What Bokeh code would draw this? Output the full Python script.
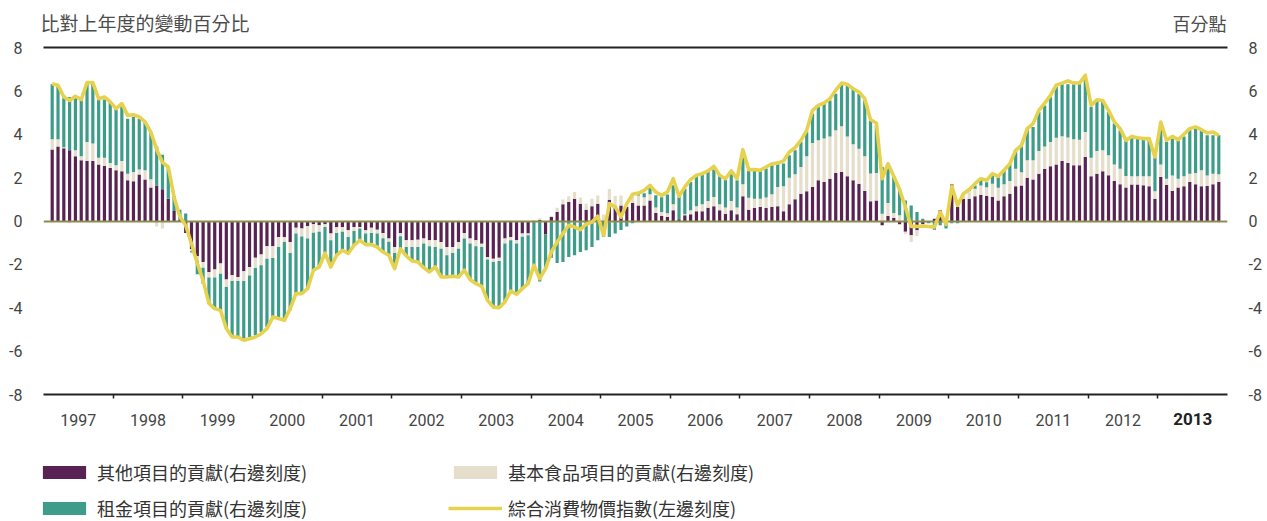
import numpy as np
from bokeh.plotting import figure
from bokeh.layouts import column
from bokeh.models import (Range1d, LinearAxis, FixedTicker, Legend, LegendItem,
                          ColumnDataSource, Grid)
from bokeh.core.properties import value
from bokeh.embed import file_html
from bokeh.resources import INLINE

# ---------------- data (monthly, Feb 1997 .. Nov 2013) ----------------
START_YEAR = 1997
START_MONTH = 2

other = [
    3.30, 3.44, 3.35, 3.26, 2.98, 2.80, 2.77, 2.77, 2.60, 2.54, 2.44,
    2.34, 2.29, 1.88, 1.83, 2.14, 1.91, 1.54, 1.64, 1.46, 1.03, 0.46, 0.06,
    -0.55, -1.30, -1.63, -1.89, -2.35, -2.24, -1.96, -2.70, -2.50, -2.58, -2.32, -2.12,
    -1.69, -1.55, -1.17, -1.17, -0.74, -0.74, -0.97, -0.31, -0.35, -0.23, -0.15, -0.20,
    -0.15, -0.58, -0.28, -0.28, -0.43, -0.28, -0.28, -0.43, -0.31, -0.40, -0.55, -0.81,
    -1.20, -0.55, -0.89, -0.89, -0.86, -0.81, -0.89, -0.89, -0.97, -1.20, -1.20, -0.97,
    -0.55, -0.81, -0.89, -1.05, -1.66, -1.74, -1.69, -0.81, -0.74, -0.89, -0.58, -0.58,
    -0.05, 0.05, -0.62, 0.18, 0.41, 0.77, 0.88, 1.03, 0.80, 0.52, 0.68, 0.80,
    0.00, 0.98, 0.70, 0.72, 0.65, 0.83, 0.72, 0.72, 0.95, 0.37, 0.23, 0.18,
    0.49, 0.08, 0.26, 0.31, 0.45, 0.45, 0.61, 0.68, 0.49, 0.34, 0.49, 0.31,
    1.14, 0.52, 0.60, 0.65, 0.60, 0.65, 0.68, 0.45, 0.77, 1.00, 1.26, 1.37,
    1.57, 1.88, 1.80, 1.95, 2.21, 2.26, 2.06, 1.88, 1.72, 1.38, 0.91, 0.95,
    -0.20, 0.23, 0.15, -0.15, -0.50, -0.66, -0.43, -0.15, -0.05, 0.10, 0.49, 0.00,
    1.69, 0.65, 1.03, 1.03, 1.14, 1.21, 1.15, 1.11, 0.95, 1.14, 1.26, 1.60,
    1.64, 2.00, 1.91, 2.18, 2.41, 2.52, 2.61, 2.77, 2.68, 2.57, 2.57, 2.95,
    2.06, 2.18, 2.29, 2.11, 1.85, 1.69, 1.54, 1.68, 1.68, 1.65, 1.60, 1.03,
    2.03, 1.66, 1.38, 1.54, 1.60, 1.80, 1.69, 1.60, 1.61, 1.69, 1.80,
]

food = [
    0.47, 0.33, 0.05, -0.10, 0.28, 0.18, 0.87, 0.80, 0.32, 0.38, 0.23,
    0.23, 0.48, 0.30, 0.43, 0.23, 0.43, 0.38, -0.25, -0.35, 0.00, 0.00, 0.00,
    0.00, -0.10, -0.21, -0.26, -0.26, -0.37, -0.47, -0.34, -0.27, -0.19, -0.45, -0.39,
    -0.48, -0.49, -0.57, -0.54, -0.46, -0.23, -0.51, -0.27, -0.36, -0.58, -0.39, -0.30,
    -0.13, -0.31, -0.27, -0.22, -0.31, -0.18, -0.07, -0.15, -0.24, -0.18, -0.25, -0.15,
    -0.28, -0.15, -0.31, -0.31, -0.34, -0.23, -0.28, -0.31, -0.31, -0.38, -0.28, -0.31,
    -0.26, -0.23, -0.28, -0.15, -0.12, -0.15, -0.15, -0.23, -0.15, -0.15, -0.15, -0.08,
    0.05, 0.08, 0.00, 0.05, 0.20, 0.22, 0.26, 0.31, 0.28, 0.28, 0.35, 0.38,
    0.30, 0.50, 0.45, 0.46, 0.05, 0.31, 0.46, 0.38, 0.28, 0.25, 0.18, 0.18,
    0.28, 0.00, 0.05, 0.18, 0.23, 0.32, 0.31, 0.43, 0.28, 0.28, 0.43, 0.31,
    0.55, 0.55, 0.43, 0.38, 0.48, 0.58, 0.89, 1.15, 1.23, 1.15, 1.23, 1.61,
    2.03, 1.84, 2.00, 1.95, 1.97, 2.11, 1.84, 1.66, 1.61, 1.60, 1.28, 1.26,
    0.34, 0.60, 0.22, 0.26, -0.10, -0.31, -0.26, -0.05, 0.00, 0.00, 0.00, 0.00,
    0.03, 0.05, 0.20, 0.35, 0.35, 0.43, 0.41, 0.61, 0.58, 0.55, 0.58, 0.81,
    0.61, 0.80, 0.89, 1.05, 1.03, 1.12, 1.23, 1.14, 1.17, 1.20, 1.18, 1.15,
    0.86, 1.05, 0.97, 0.92, 0.75, 0.72, 0.54, 0.38, 0.38, 0.41, 0.46, 0.34,
    0.58, 0.29, 0.72, 0.41, 0.46, 0.38, 0.52, 0.74, 0.49, 0.49, 0.35,
]

rent = [
    2.53, 2.44, 2.39, 2.46, 2.53, 2.71, 2.69, 2.76, 2.72, 2.68, 2.82,
    2.61, 2.64, 2.54, 2.54, 2.35, 2.23, 2.18, 1.80, 1.60, 1.46, 0.69, 0.46,
    0.35, -0.05, -0.62, -0.74, -1.20, -1.43, -1.69, -1.92, -2.58, -2.58, -2.66, -2.84,
    -3.10, -3.08, -3.15, -2.72, -3.30, -3.53, -2.64, -2.77, -2.64, -2.31, -1.73, -1.62,
    -1.20, -1.23, -1.03, -0.85, -0.76, -0.66, -0.54, -0.51, -0.54, -0.62, -0.63, -0.62,
    -0.72, -0.58, -0.41, -0.64, -0.69, -1.11, -1.18, -0.92, -1.30, -1.00, -1.07, -1.30,
    -1.46, -1.66, -1.72, -1.81, -1.88, -2.08, -2.16, -2.69, -2.34, -2.34, -2.39, -2.23,
    -2.04, -2.79, -1.58, -1.70, -1.94, -1.89, -1.66, -1.58, -1.43, -1.35, -1.20, -0.89,
    -0.74, -0.74, -0.58, -0.42, -0.25, -0.10, 0.05, 0.18, 0.37, 0.57, 0.69, 0.86,
    0.88, 1.03, 1.18, 1.31, 1.38, 1.38, 1.34, 1.26, 1.29, 1.29, 1.23, 1.26,
    1.41, 1.23, 1.28, 1.28, 1.34, 1.34, 1.08, 1.05, 1.03, 1.11, 1.15, 1.14,
    1.35, 1.54, 1.61, 1.66, 1.69, 1.97, 2.35, 2.58, 2.54, 2.58, 2.46, 2.20,
    2.15, 1.81, 1.69, 1.23, 0.95, 0.72, 0.41, 0.10, -0.05, -0.40, -0.20, -0.35,
    -0.10, -0.10, 0.03, 0.06, 0.15, 0.31, 0.23, 0.46, 0.49, 0.68, 0.77, 0.85,
    1.23, 1.46, 1.54, 1.80, 1.89, 2.07, 2.34, 2.40, 2.45, 2.54, 2.58, 2.61,
    2.34, 2.31, 2.31, 2.00, 1.89, 1.77, 1.64, 1.81, 1.74, 1.69, 1.74, 1.58,
    1.80, 1.69, 1.69, 1.77, 1.84, 2.00, 2.05, 1.84, 1.85, 1.77, 1.80,
]

cpi = [
    6.33, 6.26, 5.72, 5.56, 5.75, 5.60, 6.38, 6.38, 5.64, 5.72, 5.49,
    5.18, 5.41, 4.87, 4.90, 4.80, 4.57, 4.10, 3.30, 2.70, 2.49, 1.10, 0.20,
    -0.20, -1.05, -1.95, -2.75, -3.80, -4.04, -4.12, -4.96, -5.35, -5.35, -5.50, -5.43,
    -5.35, -5.20, -4.96, -4.43, -4.50, -4.58, -4.04, -3.35, -3.35, -3.12, -2.27, -2.12,
    -1.48, -2.12, -1.58, -1.35, -1.50, -1.12, -0.89, -1.09, -1.09, -1.20, -1.43, -1.58,
    -2.20, -1.28, -1.61, -1.84, -1.89, -2.15, -2.35, -2.12, -2.58, -2.58, -2.55, -2.58,
    -2.27, -2.70, -2.89, -3.01, -3.66, -3.97, -4.00, -3.73, -3.23, -3.38, -3.12, -2.89,
    -2.04, -2.66, -2.20, -1.43, -0.97, -0.58, -0.20, -0.28, -0.40, -0.15, -0.05, 0.22,
    -0.66, 0.80, 0.65, 0.18, 0.80, 1.23, 1.29, 1.41, 1.64, 1.34, 1.18, 1.34,
    1.95, 1.14, 1.57, 1.91, 2.11, 2.18, 2.31, 2.52, 2.11, 1.95, 2.31, 1.95,
    3.29, 2.37, 2.37, 2.34, 2.49, 2.64, 2.67, 2.77, 3.18, 3.38, 3.72, 4.18,
    5.10, 5.33, 5.44, 5.64, 6.03, 6.36, 6.30, 6.10, 5.95, 5.64, 4.67, 4.52,
    1.95, 2.64, 2.06, 1.45, 0.65, -0.25, -0.25, -0.23, -0.25, -0.28, 0.41, -0.15,
    1.60, 0.72, 1.26, 1.45, 1.72, 1.95, 1.88, 2.18, 2.06, 2.34, 2.64, 3.26,
    3.49, 4.26, 4.49, 5.10, 5.43, 5.79, 6.26, 6.36, 6.46, 6.36, 6.36, 6.72,
    5.33, 5.59, 5.56, 5.10, 4.57, 4.26, 3.72, 3.90, 3.84, 3.80, 3.80, 2.95,
    4.56, 3.72, 3.90, 3.75, 4.00, 4.26, 4.34, 4.21, 4.06, 4.10, 3.95,
]

years = list(range(1997, 2014))
year_labels = [str(y) for y in years]
y_ticks = [-8, -6, -4, -2, 0, 2, 4, 6, 8]
y_tick_labels = [str(t) for t in y_ticks]

title_left = "比對上年度的變動百分比"
title_right = "百分點"
series_labels = {
    "other": "其他項目的貢獻(右邊刻度)",
    "food": "基本食品項目的貢獻(右邊刻度)",
    "rent": "租金項目的貢獻(右邊刻度)",
    "cpi": "綜合消費物價指數(左邊刻度)",
}

# ---------------- styles ----------------
C_OTHER = "#582352"
C_FOOD = "#e4decb"
C_RENT = "#3e9d8a"
C_CPI = "#e6d24e"
C_ZERO = "#8c8b50"
C_AXIS = "#222222"
C_TEXT = "#444444"
C_TITLE = "#4d4d4d"
NUM_FONT = "Roboto"
CJK_FONT = "Noto Sans CJK TC"
W = 1267
BL, BR = 43, 40          # chart frame borders (left / right)


def bare(fig):
    fig.outline_line_color = None
    for g in fig.select(type=Grid):
        g.visible = False
    return fig


n = len(cpi)
assert len(other) == n and len(food) == n and len(rent) == n
x = [START_YEAR + (START_MONTH - 1 + k + 0.5) / 12.0 for k in range(n)]

# stack positive parts upward and negative parts downward
pos = np.zeros(n)
neg = np.zeros(n)
stacks = {}
for name, vals in (("other", other), ("food", food), ("rent", rent)):
    v = np.array(vals, dtype=float)
    bottom = np.where(v >= 0, pos, neg)
    top = bottom + v
    pos = np.where(v >= 0, top, pos)
    neg = np.where(v < 0, top, neg)
    stacks[name] = ColumnDataSource(dict(x=x, bottom=bottom, top=top))
cpi_src = ColumnDataSource(dict(x=x, y=cpi))

x_range = Range1d(years[0], years[-1] + 1)
CAN_UNALIGN = "frame_align" in figure.properties()

# ---------------- header (titles) ----------------
head_left = 40 if CAN_UNALIGN else BL
head = bare(figure(width=W, height=40, output_backend="svg", toolbar_location=None,
                   x_range=Range1d(0, 1), y_range=Range1d(0, 1),
                   x_axis_location=None, y_axis_location=None,
                   min_border_left=head_left, min_border_right=BR,
                   min_border_top=0, min_border_bottom=0))
if CAN_UNALIGN:
    head.frame_align = False
head.text(x=[0], y=[0.45], text=[title_left], text_align="left",
          text_baseline="middle", text_font=value(CJK_FONT), text_font_size="19px",
          text_color=C_TITLE)
head.text(x=[1], y=[0.45], text=[title_right], x_offset=-1, text_align="right",
          text_baseline="middle", text_font=value(CJK_FONT), text_font_size="18px",
          text_color=C_TITLE)

# ---------------- main chart ----------------
p = bare(figure(width=W, height=394, output_backend="svg", toolbar_location=None,
                x_range=x_range, y_range=Range1d(-8, 8),
                x_axis_location=None, y_axis_location=None,
                min_border_left=BL, min_border_right=BR, min_border_top=7, min_border_bottom=40))
p.background_fill_color = "white"

bar_w = 0.046
r_other = p.vbar(x="x", bottom="bottom", top="top", width=bar_w, source=stacks["other"],
                 fill_color=C_OTHER, line_color=None)
r_food = p.vbar(x="x", bottom="bottom", top="top", width=bar_w, source=stacks["food"],
                fill_color=C_FOOD, line_color=None)
r_rent = p.vbar(x="x", bottom="bottom", top="top", width=bar_w, source=stacks["rent"],
                fill_color=C_RENT, line_color=None)
p.hspan(y=[0], line_color=C_ZERO, line_width=2)
r_cpi = p.line(x="x", y="y", source=cpi_src, line_color=C_CPI, line_width=3.6, line_join="round")

centers = [y + 0.5 for y in years]
bounds = [float(y) for y in years[1:]]
overrides = {c: lab for c, lab in zip(centers[:-1], year_labels[:-1])}
xaxis = LinearAxis(ticker=FixedTicker(ticks=centers[:-1], minor_ticks=bounds),
                   major_label_overrides=overrides,
                   major_tick_in=0, major_tick_out=0, major_tick_line_color=None,
                   minor_tick_in=0, minor_tick_out=4, minor_tick_line_color=C_AXIS,
                   minor_tick_line_width=1.5,
                   axis_line_color=C_AXIS, axis_line_width=2,
                   major_label_text_font=NUM_FONT, major_label_text_font_size="16px",
                   major_label_text_color=C_TEXT, major_label_standoff=15)
p.add_layout(xaxis, "below")
# the last year's label is bold: a second, line-less axis pulled up onto the same row
xaxis_bold = LinearAxis(ticker=FixedTicker(ticks=centers[-1:]),
                        major_label_overrides={centers[-1]: year_labels[-1]},
                        axis_line_color=None, major_tick_line_color=None,
                        minor_tick_line_color=None, major_tick_out=0, major_tick_in=0,
                        major_label_text_font=NUM_FONT, major_label_text_font_size="17px",
                        major_label_text_font_style="bold", major_label_text_color=C_AXIS,
                        major_label_standoff=-16)
p.add_layout(xaxis_bold, "below")

top_axis = LinearAxis(ticker=FixedTicker(ticks=[]), axis_line_color=C_AXIS, axis_line_width=2,
                      major_tick_line_color=None, minor_tick_line_color=None,
                      major_tick_out=0, major_tick_in=0, major_label_standoff=0,
                      major_label_text_font_size="0px")
p.add_layout(top_axis, "above")

for loc in ("left", "right"):
    ax = LinearAxis(ticker=FixedTicker(ticks=y_ticks),
                    major_label_overrides={t: s for t, s in zip(y_ticks, y_tick_labels)},
                    axis_line_color=None,
                    major_tick_line_color=None, minor_tick_line_color=None,
                    major_tick_out=0, major_tick_in=0,
                    major_label_text_font=NUM_FONT, major_label_text_font_size="16px",
                    major_label_text_color=C_TEXT, major_label_standoff=21)
    p.add_layout(ax, loc)

# ---------------- footer (legend) ----------------
# the legend's renderers reuse the real data, kept out of view by the footer's y-range
foot = bare(figure(width=W, height=87, output_backend="svg", toolbar_location=None,
                   x_range=x_range, y_range=Range1d(100, 101),
                   x_axis_location=None, y_axis_location=None,
                   min_border_left=0, min_border_right=0, min_border_top=0, min_border_bottom=0))
if CAN_UNALIGN:
    foot.frame_align = False
foot_frame_left = 0 if CAN_UNALIGN else BL
f_other = foot.vbar(x="x", bottom="bottom", top="top", width=bar_w, source=stacks["other"],
                    fill_color=C_OTHER, line_color=None)
f_food = foot.vbar(x="x", bottom="bottom", top="top", width=bar_w, source=stacks["food"],
                   fill_color=C_FOOD, line_color=None)
f_rent = foot.vbar(x="x", bottom="bottom", top="top", width=bar_w, source=stacks["rent"],
                   fill_color=C_RENT, line_color=None)
f_cpi = foot.line(x="x", y="y", source=cpi_src, line_color=C_CPI, line_width=3.6)

legend = Legend(items=[
    LegendItem(label=series_labels["other"], renderers=[f_other]),
    LegendItem(label=series_labels["food"], renderers=[f_food]),
    LegendItem(label=series_labels["rent"], renderers=[f_rent]),
    LegendItem(label=series_labels["cpi"], renderers=[f_cpi]),
], location=(37 - foot_frame_left, 0), orientation="horizontal", ncols=2,
    glyph_width=54, glyph_height=16, label_standoff=6, spacing=10, label_width=341,
    padding=0, margin=0, border_line_color=None, background_fill_alpha=0,
    label_text_font=CJK_FONT, label_text_font_size="18px", label_text_color="#333333")
foot.add_layout(legend, "center")

layout = column(head, p, foot, spacing=0)
open("out.html", "w").write(file_html(layout, INLINE))
